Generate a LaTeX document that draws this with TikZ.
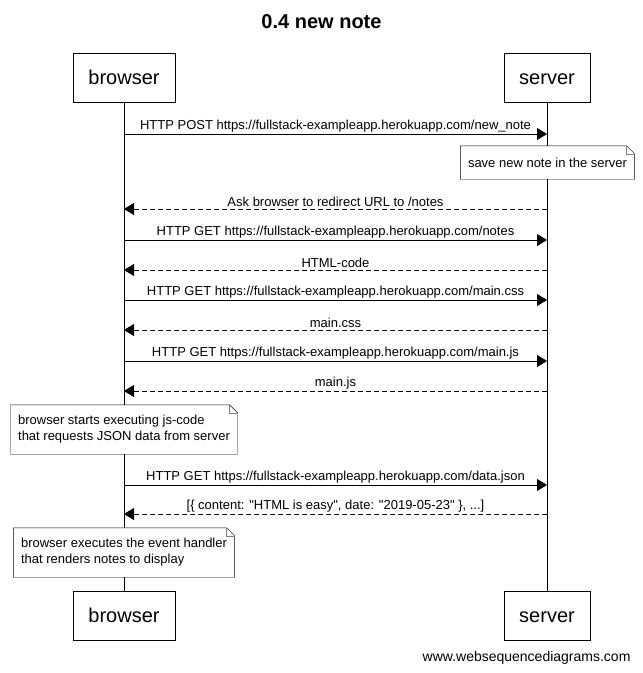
\documentclass[tikz,border=0pt]{standalone}
\usepackage{fontspec}
\setmainfont{Liberation Sans}
\usetikzlibrary{arrows.meta}

\tikzset{
  actor/.style={draw, minimum height=49pt, inner xsep=15.5pt, inner ysep=0pt, text height=16.8pt, text depth=2.2pt, font=\fontsize{20}{24}\selectfont},
  note/.style={fill=white, align=left, inner xsep=7.5pt, inner ysep=0pt, font=\fontsize{13}{16}\selectfont},
  msg/.style={-{Triangle[length=10pt,width=12pt]}},
  reply/.style={msg, dash pattern=on 5pt off 3pt},
  msglabel/.style={above, inner sep=2pt, font=\fontsize{13}{16}\selectfont},
}

% note outline with a folded corner
\newcommand{\notebox}[1]{%
  \draw (#1.north west) -- ([xshift=-8pt]#1.north east) -- ([yshift=-8pt]#1.north east)
        -- (#1.south east) -- (#1.south west) -- cycle;
  \draw[gray] ([xshift=-8pt]#1.north east) |- ([yshift=-8pt]#1.north east);
}
% straight double quote, no tex-text mapping
\newcommand{\qt}{\XeTeXglyph\XeTeXcharglyph"22\relax}

\begin{document}
\begin{tikzpicture}[x=1pt, y=-1pt]
      \useasboundingbox (0,0) rectangle (643,673);

      \node[font=\fontsize{20}{24}\selectfont\bfseries] (title) at (321.5, 22) {0.4 new note};

      \node[actor] (browser) at (124, 77.5) {browser};
      \node[actor] (server) at (547, 77.5) {server};
      \node[actor] (browserEnd) at (124, 615.5) {browser};
      \node[actor] (serverEnd) at (547, 615.5) {server};

      \draw (browser) -- (browserEnd);
      \draw (server) -- (serverEnd);

      \coordinate (b1) at (124, 134);  \coordinate (s1) at (547, 134);
      \coordinate (b2) at (124, 209);  \coordinate (s2) at (547, 209);
      \coordinate (b3) at (124, 240);  \coordinate (s3) at (547, 240);
      \coordinate (b4) at (124, 270);  \coordinate (s4) at (547, 270);
      \coordinate (b5) at (124, 300);  \coordinate (s5) at (547, 300);
      \coordinate (b6) at (124, 330);  \coordinate (s6) at (547, 330);
      \coordinate (b7) at (124, 361);  \coordinate (s7) at (547, 361);
      \coordinate (b8) at (124, 391);  \coordinate (s8) at (547, 391);
      \coordinate (b9) at (124, 485);  \coordinate (s9) at (547, 485);
      \coordinate (b10) at (124, 514); \coordinate (s10) at (547, 514);

      \draw[msg] (b1) -- node[msglabel] (m1) {HTTP POST https://fullstack-exampleapp.herokuapp.com/new\_note} (s1);

      \node[note, minimum height=33pt] (save) at (547.5, 162.5) {save new note in the server};
      \notebox{save}

      \draw[reply] (s2) -- node[msglabel] (m2) {Ask browser to redirect URL to /notes} (b2);
      \draw[msg] (b3) -- node[msglabel] (m3) {HTTP GET https://fullstack-exampleapp.herokuapp.com/notes} (s3);
      \draw[reply] (s4) -- node[msglabel] (m4) {HTML-code} (b4);
      \draw[msg] (b5) -- node[msglabel] (m5) {HTTP GET https://fullstack-exampleapp.herokuapp.com/main.css} (s5);
      \draw[reply] (s6) -- node[msglabel] (m6) {main.css} (b6);
      \draw[msg] (b7) -- node[msglabel] (m7) {HTTP GET https://fullstack-exampleapp.herokuapp.com/main.js} (s7);
      \draw[reply] (s8) -- node[msglabel] (m8) {main.js} (b8);

      \node[note, minimum height=49pt] (exec) at (124, 429.5) {browser starts executing js-code\\that requests JSON data from server};
      \notebox{exec}

      \draw[msg] (b9) -- node[msglabel] (m9) {HTTP GET https://fullstack-exampleapp.herokuapp.com/data.json} (s9);
      \draw[reply] (s10) -- node[msglabel] (m10) {[\{ content: \qt HTML is easy\qt, date: \qt 2019-05-23\qt\ \}, ...]} (b10);

      \node[note, minimum height=49pt] (render) at (124, 552.5) {browser executes the event handler\\that renders notes to display};
      \notebox{render}

      \node[anchor=east, font=\fontsize{14}{17}\selectfont] (footer) at (634, 658) {www.websequencediagrams.com};
    \end{tikzpicture}
\end{document}
